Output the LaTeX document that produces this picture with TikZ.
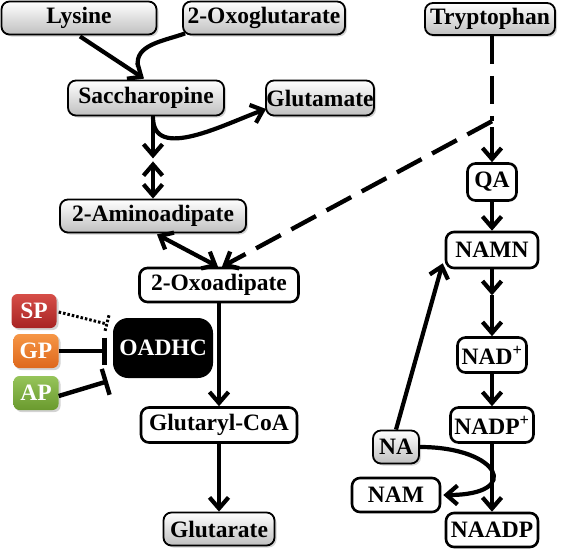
\documentclass[tikz,border=0pt]{standalone}
\usepackage{fontspec}
\setmainfont{Liberation Serif}
\usetikzlibrary{arrows.meta,calc,shadows}
\definecolor{sptop}{RGB}{214,78,72}
\definecolor{spbot}{RGB}{168,36,36}
\definecolor{gptop}{RGB}{246,150,70}
\definecolor{gpbot}{RGB}{222,104,28}
\definecolor{aptop}{RGB}{150,196,90}
\definecolor{apbot}{RGB}{106,154,46}
\begin{document}
\begin{tikzpicture}[x=1pt,y=-1pt,
  every node/.style={font=\fontsize{23.5}{25}\selectfont\bfseries, inner sep=0pt},
  gbox/.style={draw=black, line width=1.8pt, rounded corners=8pt, top color=white, bottom color=gray!50,
    drop shadow={opacity=0.35,shadow xshift=2pt,shadow yshift=-2pt}},
  wbox/.style={draw=black, line width=2.6pt, rounded corners=8pt, fill=white},
  cbox/.style={rounded corners=6pt, text=white, minimum width=45pt, minimum height=34pt,
    drop shadow={opacity=0.35,shadow xshift=2pt,shadow yshift=-2pt}},
  sz/.style 2 args={minimum width=#1pt, minimum height=#2pt},
  >={Straight Barb[length=11pt,width=19pt]},
  ln/.style={line width=4.2pt},
  arr/.style={line width=4.2pt,->},
  darr/.style={line width=4.2pt,<->},
  dsh/.style={line width=4.4pt,dash pattern=on 28pt off 12pt},
  inh/.style={line width=4.4pt,-{Bar[width=27pt]}},
  dots/.style={line width=3pt,dash pattern=on 2.5pt off 2pt},
]
\useasboundingbox (0,0) rectangle (564,549);

% nodes
\node[gbox,sz={155}{33}] (lys) at (79,18) {Lysine};
\node[gbox,sz={162}{33}] (oxg) at (264,18) {2-Oxoglutarate};
\node[gbox,sz={130}{32}] (trp) at (490,19) {Tryptophan};
\node[gbox,sz={156}{35}] (sac) at (146,98) {Saccharopine};
\node[gbox,sz={108}{35}] (glu) at (320,98) {Glutamate};
\node[gbox,sz={186}{33}] (aad) at (153,216) {2-Aminoadipate};
\node[wbox,sz={159}{34}] (oad) at (219,285) {2-Oxoadipate};
\node[fill=black,text=white,rounded corners=15pt,sz={100}{60}] (oadhc) at (163,348) {OADHC};
\node[cbox,top color=sptop,bottom color=spbot] (sp) at (34,311) {SP};
\node[cbox,top color=gptop,bottom color=gpbot] (gp) at (36,351) {GP};
\node[cbox,top color=aptop,bottom color=apbot] (ap) at (36,393) {AP};
\node[wbox,sz={156}{35}] (gcoa) at (219,425) {Glutaryl-CoA};
\node[gbox,sz={111}{33}] (gta) at (219,529) {Glutarate};
\node[wbox,sz={49}{37}] (qa) at (492,182) {QA};
\node[wbox,sz={92}{36}] (namn) at (492,250) {NAMN};
\node[wbox,sz={69}{35}] (nad) at (492,355) {NAD\textsuperscript{+}};
\node[wbox,sz={83}{35}] (nadp) at (492,425) {NADP\textsuperscript{+}};
\node[gbox,sz={46}{33}] (na) at (396,447) {NA};
\node[wbox,sz={88}{34}] (nam) at (396,495) {NAM};
\node[wbox,sz={92}{34}] (naadp) at (492,530) {NAADP};

% lysine branch
\draw[ln] ($(oxg.south west)+(3,-2)$) to[out=200,in=100] ($(sac.north)+(-8,-13)$);
\draw[arr] ($(lys.south)+(1,1)$) -- ($(sac.north)+(-2,-1)$);
\coordinate (s1) at ($(sac.south -| aad)+(0,42)$);
\draw[arr] (sac.south -| aad) -- (s1);
\draw[darr] ($(s1)+(0,3)$) -- (aad.north);
\draw[arr] ($(sac.south -| aad)+(0,1)$) to[out=-90,in=200] ($(glu.west)+(1,11)$);
\draw[darr] ($(aad.south)+(4,1)$) -- ($(oad.north)+(-1,0)$);

% tryptophan branch
\coordinate (j) at ($(qa.north)+(0,-41)$);
\draw[dsh] (trp.south -| qa) -- (j);
\draw[dsh,->] (j) -- ($(oad.north)+(3,0)$);
\draw[arr] ($(j)+(0,6)$) -- (qa.north);
\draw[arr] (qa.south) -- (namn.north);
\coordinate (m) at ($(namn.south)+(0,26)$);
\draw[arr] (namn.south) -- (m);
\draw[arr] (m) -- (nad.north);
\draw[arr] (nad.south) -- (nadp.north);
\draw[arr] (nadp.south) -- (naadp.north);
\draw[arr] (na.north) -- ($(namn.south west)+(-2,-6)$);
\draw[arr] (na.east) to[out=0,in=0,distance=80pt] ($(nam.east)+(2,0)$);

% oxoadipate branch
\draw[arr] (oad.south) -- (gcoa.north);
\draw[arr] (gcoa.south) -- (gta.north);

% inhibitors
\draw[inh] (gp.east) -- ($(gp.east -| oadhc.west)+(-6,0)$);
\draw[inh] ($(ap.east)+(0,3)$) -- ($(oadhc.south west)+(-5,3)$);
\coordinate (spb) at ($(oadhc.west)+(-6,-24)$);
\coordinate (spb1) at ($(spb)+(2.2,-8.7)$);
\coordinate (spb2) at ($(spb)+(-2.2,8.7)$);
\draw[dots] ($(sp.east)+(2,1)$) -- (spb);
\draw[dots] (spb1) -- (spb2);
\end{tikzpicture}
\end{document}
